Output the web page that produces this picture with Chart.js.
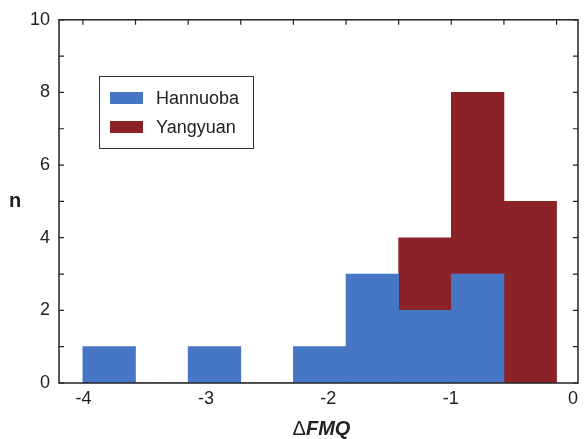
<!DOCTYPE html>
<html>
<head>
<meta charset="utf-8">
<script src="https://cdn.jsdelivr.net/npm/chart.js@4"></script>
<style>
  body { margin: 0; background: #fff; }
  #wrap { width: 585px; height: 439px; }
</style>
</head>
<body>
<div id="wrap"><canvas id="chart"></canvas></div>
<script>
// histogram bins (ΔFMQ)
const binCenters = [-3.79, -3.36, -2.93, -2.50, -2.07, -1.64, -1.21, -0.78, -0.35];
const binWidth = 0.43;
const hannuoba = [1, 0, 1, 0, 1, 3, 2, 3, 0];
const yangyuan = [0, 0, 0, 0, 0, 0, 4, 8, 5];
const xTicks = [-4, -3, -2, -1, 0];
const yTicks = [0, 2, 4, 6, 8, 10];
const seriesNames = ['Hannuoba', 'Yangyuan'];
const seriesColors = ['#4676c4', '#8b2227'];

const FONT = '"Liberation Sans", Arial, sans-serif';
const INK = '#222';

// frame, inward ticks, legend box and axis titles
const decorations = {
    id: 'decorations',
    afterDraw(chart) {
        const { ctx, chartArea: a } = chart;
        const xs = chart.scales.x, ys = chart.scales.y;
        ctx.save();
        ctx.strokeStyle = INK;
        ctx.lineWidth = 1.5;
        ctx.strokeRect(a.left, a.top, a.right - a.left, a.bottom - a.top);

        // minor ticks on left and right axes
        ctx.lineWidth = 1.2;
        ctx.beginPath();
        for (let v = 0; v <= 10; v++) {
            const y = ys.getPixelForValue(v);
            ctx.moveTo(a.left, y); ctx.lineTo(a.left + 5, y);
            ctx.moveTo(a.right, y); ctx.lineTo(a.right - 5, y);
        }
        // bin edges on the top axis
        const edges = binCenters.map(c => c - binWidth / 2);
        edges.push(binCenters[binCenters.length - 1] + binWidth / 2);
        edges.forEach(e => {
            const x = xs.getPixelForValue(e);
            ctx.moveTo(x, a.top); ctx.lineTo(x, a.top + 5);
        });
        ctx.stroke();

        // legend
        ctx.fillStyle = '#fff';
        ctx.fillRect(99, 76, 154, 72);
        ctx.lineWidth = 1;
        ctx.strokeStyle = '#333';
        ctx.strokeRect(99.5, 76.5, 154, 72);
        ctx.font = '18px ' + FONT;
        ctx.textBaseline = 'middle';
        seriesNames.forEach((name, i) => {
            const y = 98 + i * 29;
            ctx.fillStyle = seriesColors[i];
            ctx.fillRect(110, y - 6, 33, 12);
            ctx.fillStyle = INK;
            ctx.fillText(name, 156, y + 1);
        });

        // y title
        ctx.font = 'bold 20px ' + FONT;
        ctx.textAlign = 'center';
        ctx.fillText('n', 15, (a.top + a.bottom) / 2);

        // x title: Δ plain, FMQ bold italic
        const f1 = '20px ' + FONT, f2 = 'italic bold 20px ' + FONT;
        ctx.font = f1; const w1 = ctx.measureText('Δ').width;
        ctx.font = f2; const w2 = ctx.measureText('FMQ').width;
        let x0 = (a.left + a.right) / 2 + 3 - (w1 + w2) / 2;
        ctx.textAlign = 'left';
        ctx.font = f1; ctx.fillText('Δ', x0, 429);
        ctx.font = f2; ctx.fillText('FMQ', x0 + w1, 429);
        ctx.restore();
    }
};

const makeSet = (i, values) => ({
    label: seriesNames[i],
    data: binCenters.map((x, k) => ({ x, y: values[k] })),
    backgroundColor: seriesColors[i],
    borderWidth: 0,
    barPercentage: 1,
    categoryPercentage: 1,
    grouped: false,
});

new Chart(document.getElementById('chart'), {
    type: 'bar',
    data: {
        datasets: [makeSet(0, hannuoba), makeSet(1, yangyuan)]
    },
    options: {
        responsive: true,
        maintainAspectRatio: false,
        animation: false,
        layout: { padding: { top: 17, right: 7, left: 0, bottom: 0 } },
        plugins: {
            legend: { display: false },
            tooltip: { enabled: false }
        },
        scales: {
            x: {
                type: 'linear',
                min: -4.2,
                max: 0.04,
                offset: false,
                grid: { display: false, offset: false, drawTicks: false },
                border: { display: false },
                afterBuildTicks: (s) => { s.ticks = xTicks.map(value => ({ value })); },
                afterFit: (s) => { s.height = 56; },
                ticks: {
                    color: INK,
                    padding: 5,
                    maxRotation: 0,
                    font: { size: 18, family: FONT },
                    callback: (v) => String(v)
                }
            },
            y: {
                min: 0,
                max: 10,
                grid: { display: false, drawTicks: false },
                border: { display: false },
                afterBuildTicks: (s) => { s.ticks = yTicks.map(value => ({ value })); },
                afterFit: (s) => { s.width = 59; },
                ticks: {
                    color: INK,
                    padding: 9,
                    font: { size: 18, family: FONT }
                }
            }
        }
    },
    plugins: [decorations]
});
</script>
</body>
</html>
